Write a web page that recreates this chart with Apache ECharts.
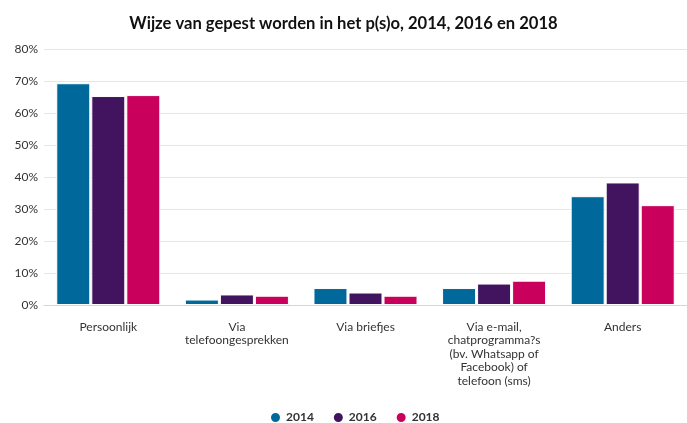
<!DOCTYPE html>
<html>
<head>
<meta charset="utf-8">
<script src="https://cdn.jsdelivr.net/npm/echarts@6/dist/echarts.min.js"></script>
<style>
  html, body { margin: 0; padding: 0; background: #fff; }
  #chart { width: 687px; height: 423px; }
</style>
</head>
<body>
<div id="chart"></div>
<script>
// categories and values (percentages)
var categories = [
    'Persoonlijk',
    'Via\ntelefoongesprekken',
    'Via briefjes',
    'Via e-mail,\nchatprogramma?s\n(bv. Whatsapp of\nFacebook) of\ntelefoon (sms)',
    'Anders'
];
var years = ['2014', '2016', '2018'];
var values2014 = [69.3, 1.7, 5.3, 5.3, 34.0];
var values2016 = [65.3, 3.3, 3.9, 6.7, 38.3];
var values2018 = [65.6, 2.9, 2.9, 7.6, 31.2];
var yTicks = [0, 10, 20, 30, 40, 50, 60, 70, 80];

var colors = ['#01689B', '#42145F', '#CA005D'];
var font = 'Lato, "Open Sans", sans-serif';

var myChart = echarts.init(document.getElementById('chart'));

function makeSeries(name, data) {
    return {
        name: name,
        type: 'bar',
        data: data,
        barWidth: 34,
        barGap: '3%',
        itemStyle: { borderColor: '#fff', borderWidth: 1 }
    };
}

var option = {
    color: colors,
    animation: false,
    title: {
        text: 'Wijze van gepest worden in het p(s)o, 2014, 2016 en 2018',
        left: 'center',
        top: 10,
        textStyle: { fontFamily: font, fontSize: 16.6, fontWeight: 'bold', color: '#111' }
    },
    legend: {
        data: years,
        left: 264,
        top: 406,
        icon: 'circle',
        itemWidth: 11,
        itemHeight: 11,
        itemGap: 18,
        textStyle: { fontFamily: font, fontSize: 12, fontWeight: 'bold', color: '#333' }
    },
    grid: { left: 44, right: 0, top: 49, bottom: 118 },
    xAxis: {
        type: 'category',
        data: categories,
        axisLine: { lineStyle: { color: '#ccd6eb' } },
        axisTick: { alignWithLabel: true, length: 10, lineStyle: { color: '#ccd6eb' } },
        axisLabel: {
            interval: 0,
            margin: 15,
            fontFamily: font,
            fontSize: 12,
            lineHeight: 13.5,
            color: '#333'
        }
    },
    yAxis: {
        type: 'value',
        min: yTicks[0],
        max: yTicks[yTicks.length - 1],
        interval: 10,
        axisLine: { show: false },
        axisTick: { show: false },
        splitLine: { lineStyle: { color: '#e6e6e6' } },
        axisLabel: {
            margin: 6,
            formatter: '{value}%',
            fontFamily: font,
            fontSize: 12,
            color: '#333'
        }
    },
    series: [
        makeSeries(years[0], values2014),
        makeSeries(years[1], values2016),
        makeSeries(years[2], values2018)
    ]
};
myChart.setOption(option);
</script>
</body>
</html>
